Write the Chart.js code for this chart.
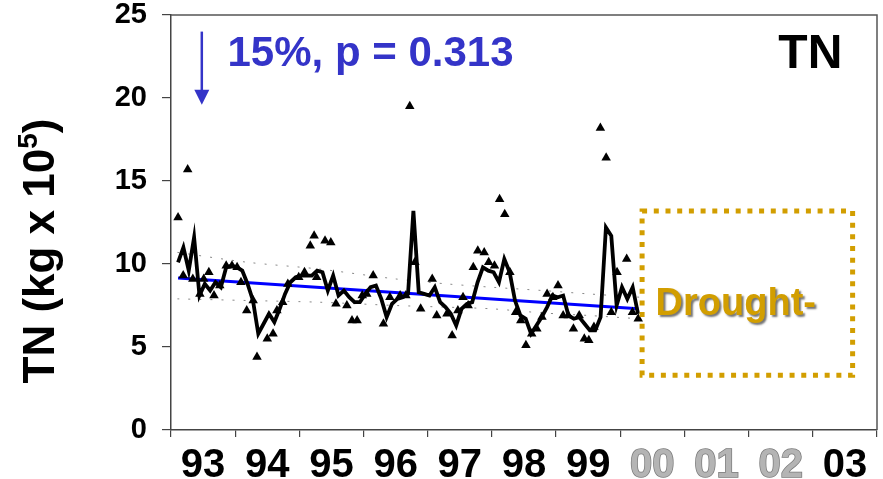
<!DOCTYPE html>
<html>
<head>
<meta charset="utf-8">
<script src="https://cdn.jsdelivr.net/npm/chart.js@4.4.1/dist/chart.umd.min.js"></script>
<style>
html,body{margin:0;padding:0;background:#fff}
</style>
</head>
<body>
<canvas id="tnChart" width="883" height="479"></canvas>
<script>
// x axis: water years 93..03
const yearLabels = ["93","94","95","96","97","98","99","00","01","02","03"]
const yearLabelColors = ["#000","#000","#000","#000","#000","#000","#000","#b4b4b4","#b4b4b4","#b4b4b4","#000"]
const yearLabelOutline = ["#000","#000","#000","#000","#000","#000","#000","#7a7a7a","#7a7a7a","#7a7a7a","#000"]

// y axis
const yMin = 0
const yMax = 25
const yStep = 5

// monthly model estimate (black line), first month = early 1993
const modelStart = 93.11
const modelMonthly = [
10.1, 11.0, 9.6, 11.6, 8.1, 8.8, 8.4, 8.9, 8.6, 9.8,
9.9, 9.8, 9.6, 8.8, 7.8, 5.8, 6.4, 7.0, 6.5, 7.3,
8.2, 8.9, 9.2, 9.3, 9.3, 9.3, 9.6, 9.5, 8.4, 9.3,
8.1, 8.4, 8.0, 7.7, 7.7, 8.2, 8.6, 8.7, 7.9, 6.8,
7.6, 7.9, 8.0, 8.2, 13.2, 8.3, 8.2, 8.1, 8.6, 7.7,
7.4, 7.0, 6.3, 7.3, 7.6, 7.7, 8.9, 9.8, 9.6, 9.5,
8.9, 10.3, 9.5, 7.8, 6.9, 6.7, 5.8, 6.3, 6.8, 7.4,
8.1, 8.0, 8.1, 6.9, 6.7, 6.8, 6.4, 6.0, 6.0, 6.8,
12.2, 11.7, 7.5, 8.6, 7.9, 8.6, 7.0
]

// observed loads (triangles)
const obsYears = [
93.11, 93.19, 93.26, 93.34, 93.45, 93.51, 93.59, 93.67, 93.76, 93.86,
93.95, 94.03, 94.09, 94.18, 94.28, 94.34, 94.50, 94.59, 94.65, 94.74,
94.82, 94.99, 95.08, 95.17, 95.23, 95.27, 95.40, 95.49, 95.57, 95.74,
95.82, 95.90, 95.98, 96.05, 96.15, 96.31, 96.41, 96.57, 96.66, 96.72,
96.80, 96.89, 97.07, 97.14, 97.30, 97.38, 97.47, 97.55, 97.63, 97.71,
97.78, 97.88, 97.95, 98.04, 98.12, 98.20, 98.28, 98.37, 98.45, 98.53,
98.62, 98.70, 98.78, 98.86, 98.95, 99.03, 99.11, 99.19, 99.27, 99.36,
99.44, 99.51, 99.59, 99.69, 99.78, 99.86, 99.95, 100.10, 100.19, 100.28
]
const obsValues = [
12.8, 9.3, 15.7, 9.1, 8.2, 9.1, 9.5, 8.1, 8.7, 9.9,
9.9, 9.8, 8.9, 7.2, 7.8, 4.4, 5.5, 5.8, 7.2, 7.7,
8.8, 9.2, 9.5, 11.1, 11.7, 9.2, 11.4, 11.3, 7.6, 7.5,
6.6, 6.6, 8.1, 8.2, 9.3, 6.4, 8.0, 8.1, 8.1, 19.5,
10.1, 7.3, 9.1, 6.9, 7.0, 5.7, 7.2, 8.0, 7.5, 9.8,
10.8, 10.7, 10.1, 9.9, 13.9, 13.0, 9.5, 7.1, 6.6, 5.1,
5.8, 6.1, 6.8, 8.2, 8.0, 8.7, 6.9, 6.9, 6.1, 6.9,
5.5, 5.4, 6.2, 18.2, 16.4, 7.1, 9.5, 10.3, 7.1, 6.7
]

// trend line and its confidence band
const trendYears = [93.11, 100.28]
const trendValues = [9.15, 7.3]
const bandYears = [93.1, 94.2, 95.3, 96.5, 97.3, 98.0, 98.8, 99.5, 100.3]
const bandUpper = [10.7, 10.1, 9.7, 9.1, 8.8, 8.6, 8.4, 8.2, 8.0]
const bandLower = [7.9, 7.8, 7.7, 7.5, 7.4, 7.3, 7.05, 6.9, 6.7]

const trendText = "15%, p = 0.313"
const droughtText = "Drought-"

const modelPoints = modelMonthly.map((v, i) => ({x: modelStart + i / 12, y: v}))
const obsPoints = obsValues.map((v, i) => ({x: obsYears[i], y: v}))
const trendPoints = trendValues.map((v, i) => ({x: trendYears[i], y: v}))
const upperPoints = bandUpper.map((v, i) => ({x: bandYears[i], y: v}))
const lowerPoints = bandLower.map((v, i) => ({x: bandYears[i], y: v}))

const blue = "#3434c8"
const gold = "#d29e00"

const extras = {
  id: "extras",
  afterDraw(chart) {
    const ctx = chart.ctx
    const a = chart.chartArea
    const xs = chart.scales.xv
    const ys = chart.scales.y
    ctx.save()

    // frame top + right
    ctx.strokeStyle = "#555"
    ctx.lineWidth = 1.5
    ctx.beginPath()
    ctx.moveTo(a.left, a.top)
    ctx.lineTo(a.right, a.top)
    ctx.lineTo(a.right, a.bottom)
    ctx.stroke()

    // arrow
    const ax = xs.getPixelForValue(93.48)
    const ay0 = ys.getPixelForValue(24.0)
    const ay1 = ys.getPixelForValue(19.6)
    ctx.strokeStyle = blue
    ctx.fillStyle = blue
    ctx.lineWidth = 2.5
    ctx.beginPath()
    ctx.moveTo(ax, ay0)
    ctx.lineTo(ax, ay1 - 12)
    ctx.stroke()
    ctx.beginPath()
    ctx.moveTo(ax - 7.5, ay1 - 15)
    ctx.lineTo(ax + 7.5, ay1 - 15)
    ctx.lineTo(ax, ay1)
    ctx.closePath()
    ctx.fill()

    // trend text
    ctx.font = "bold 42px 'Liberation Sans', Arial, sans-serif"
    ctx.textAlign = "left"
    ctx.textBaseline = "alphabetic"
    ctx.fillText(trendText, xs.getPixelForValue(93.88), ys.getPixelForValue(21.95))

    // TN label
    ctx.fillStyle = "#000"
    ctx.font = "bold 48px 'Liberation Sans', Arial, sans-serif"
    ctx.textAlign = "right"
    ctx.fillText("TN", xs.getPixelForValue(103.46), ys.getPixelForValue(21.8))

    // drought box
    const bx0 = xs.getPixelForValue(100.34)
    const bx1 = xs.getPixelForValue(103.62)
    const by0 = ys.getPixelForValue(13.2)
    const by1 = ys.getPixelForValue(3.3)
    ctx.strokeStyle = gold
    ctx.lineWidth = 5
    ctx.setLineDash([5, 6.7])
    ctx.strokeRect(bx0, by0, bx1 - bx0, by1 - by0)
    ctx.setLineDash([])

    ctx.font = "bold 38px 'Liberation Sans', Arial, sans-serif"
    ctx.textAlign = "left"
    ctx.fillStyle = gold
    ctx.shadowColor = "rgba(0,0,0,0.55)"
    ctx.shadowOffsetX = 2
    ctx.shadowOffsetY = 2
    ctx.shadowBlur = 2
    ctx.fillText(droughtText, xs.getPixelForValue(100.55), ys.getPixelForValue(6.9))
    ctx.shadowColor = "transparent"

    // y title with superscript
    ctx.translate(42, 251)
    ctx.rotate(-Math.PI / 2)
    ctx.fillStyle = "#000"
    const big = "bold 44px 'Liberation Sans', Arial, sans-serif"
    const small = "bold 28px 'Liberation Sans', Arial, sans-serif"
    ctx.font = big
    const w1 = ctx.measureText("TN (kg x 10").width
    const w3 = ctx.measureText(")").width
    ctx.font = small
    const w2 = ctx.measureText("5").width
    let tx = -(w1 + w2 + w3) / 2
    ctx.textBaseline = "middle"
    ctx.font = big
    ctx.fillText("TN (kg x 10", tx, 0)
    ctx.font = small
    ctx.fillText("5", tx + w1, -13)
    ctx.font = big
    ctx.fillText(")", tx + w1 + w2, 0)
    ctx.restore()
  }
}

new Chart(document.getElementById("tnChart"), {
  type: "line",
  data: {
    datasets: [
      {
        type: "scatter",
        data: obsPoints,
        xAxisID: "xv",
        pointStyle: "triangle",
        pointRadius: 5.5,
        backgroundColor: "#000",
        borderColor: "#000",
        borderWidth: 0
      },
      {
        data: modelPoints,
        xAxisID: "xv",
        borderColor: "#000",
        borderWidth: 3.8,
        pointRadius: 0,
        tension: 0
      },
      {
        data: trendPoints,
        xAxisID: "xv",
        borderColor: "#0000ff",
        borderWidth: 3,
        pointRadius: 0
      },
      {
        data: upperPoints,
        xAxisID: "xv",
        borderColor: "#888",
        borderWidth: 1,
        borderDash: [2, 9],
        pointRadius: 0,
        tension: 0.3
      },
      {
        data: lowerPoints,
        xAxisID: "xv",
        borderColor: "#888",
        borderWidth: 1,
        borderDash: [2, 9],
        pointRadius: 0,
        tension: 0.3
      }
    ]
  },
  options: {
    responsive: false,
    animation: false,
    events: [],
    layout: {padding: {top: 15, right: 6, left: 0, bottom: 0}},
    plugins: {legend: {display: false}, tooltip: {enabled: false}},
    scales: {
      x: {
        type: "category",
        labels: yearLabels,
        offset: true,
        grid: {offset: true, drawOnChartArea: false, tickLength: 7, color: "#444", lineWidth: 1.2},
        border: {color: "#444", width: 1.5},
        ticks: {
          color: yearLabelColors,
          textStrokeColor: (c) => yearLabelOutline[c.index],
          textStrokeWidth: (c) => (yearLabelColors[c.index] === "#000" ? 0 : 1.5),
          padding: 9,
          maxRotation: 0,
          autoSkip: false,
          font: {family: "'Liberation Sans Narrow', 'Liberation Sans', Arial, sans-serif", weight: "bold", size: 40, lineHeight: 1}
        },
        afterFit: (s) => { s.height = 49 }
      },
      xv: {
        type: "linear",
        min: 93,
        max: 104,
        display: false
      },
      y: {
        min: yMin,
        max: yMax,
        grid: {drawOnChartArea: false, tickLength: 9, color: "#444", lineWidth: 1.2},
        border: {color: "#444", width: 1.5},
        ticks: {
          stepSize: yStep,
          color: "#000",
          padding: 15,
          font: {family: "'Liberation Sans', Arial, sans-serif", weight: "bold", size: 29, lineHeight: 1}
        },
        afterFit: (s) => {
          s.width = 171
          s.paddingTop = 0
          s.paddingBottom = 0
        }
      }
    }
  },
  plugins: [extras]
})
</script>
</body>
</html>
